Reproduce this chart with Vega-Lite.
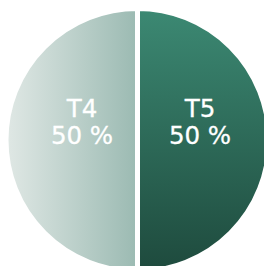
{
  "$schema": "https://vega.github.io/schema/vega-lite/v6.json",
  "width": 253,
  "height": 252,
  "autosize": "none",
  "padding": {"left": 11, "top": 14, "right": 0, "bottom": 0},
  "background": "white",
  "view": {"stroke": null},
  "data": {"values": [
    {"category": "T4", "value": 50},
    {"category": "T5", "value": 50}
  ]},
  "transform": [
    {"calculate": "datum.category + '\\n' + datum.value + ' %'", "as": "label"}
  ],
  "encoding": {
    "theta": {"field": "value", "type": "quantitative", "stack": true},
    "order": {"field": "category", "sort": "descending"}
  },
  "layer": [
    {
      "mark": {"type": "arc", "radius": 131.5, "stroke": "white", "strokeWidth": 5},
      "encoding": {
        "color": {
          "condition": {
            "test": "datum.category === 'T4'",
            "value": {"gradient": "linear", "x1": 0, "y1": 0, "x2": 1, "y2": 0,
              "stops": [{"offset": 0, "color": "#e0e8e5"}, {"offset": 1, "color": "#9bbab2"}]}
          },
          "value": {"gradient": "linear", "x1": 0, "y1": 0, "x2": 0, "y2": 1,
            "stops": [{"offset": 0, "color": "#3c8973"}, {"offset": 1, "color": "#1e4a3d"}]}
        }
      }
    },
    {
      "mark": {"type": "text", "radius": 59, "dx": 3.5, "dy": -30, "font": "DejaVu Sans", "fontSize": 24.5, "lineBreak": "\n", "lineHeight": 27, "fill": "white", "stroke": "white", "strokeWidth": 0.3, "align": "center", "baseline": "middle"},
      "encoding": {
        "text": {"field": "label", "type": "nominal"}
      }
    }
  ]
}
